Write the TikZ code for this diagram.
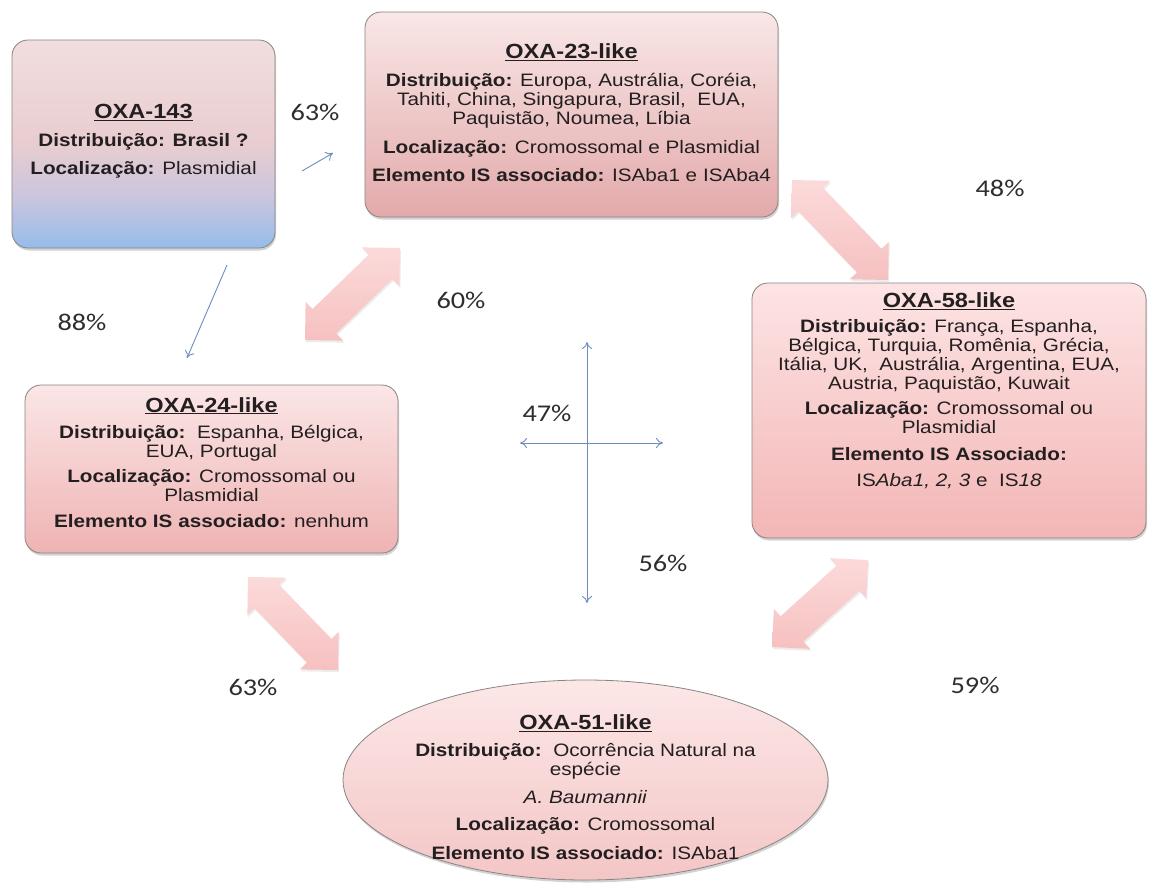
\documentclass[tikz,border=0pt]{standalone}
\usepackage{fontspec}
\setmainfont{Liberation Sans}[FakeStretch=1.15]
\newfontfamily\pctfont{Carlito}[FakeStretch=1.18]
\usetikzlibrary{arrows.meta,calc,shadows,shapes.geometric}
\definecolor{boxborder}{HTML}{8A8383}
\definecolor{txt}{HTML}{231F20}
\definecolor{pcttxt}{HTML}{2E2E2E}
\definecolor{arrowblue}{HTML}{6E8DBD}
\definecolor{fatpink}{HTML}{F6C0C0}
\definecolor{fatlight}{HTML}{FCDADA}
\definecolor{p23top}{HTML}{F9E7E7}
\definecolor{p23bot}{HTML}{E3A9AA}
\definecolor{p58top}{HTML}{FDE4E4}
\definecolor{p58bot}{HTML}{F3B6B6}
\definecolor{p24top}{HTML}{FBE6E6}
\definecolor{p24bot}{HTML}{EFB3B3}
\definecolor{p51top}{HTML}{FCE7E7}
\definecolor{p51bot}{HTML}{F4C6C6}
\definecolor{p143top}{HTML}{F2DEDE}
\definecolor{p143mid}{HTML}{E8CDD0}
\definecolor{p143lav}{HTML}{C9C5DE}
\definecolor{p143bot}{HTML}{95BCEA}
\pgfdeclareverticalshading{shade143}{100bp}{color(0bp)=(p143bot); color(25bp)=(p143bot);
  color(37bp)=(p143lav); color(50bp)=(p143mid); color(75bp)=(p143top); color(100bp)=(p143top)}
\newcommand\fatdbl[4]{%
  \coordinate (#1#2p) at ($(#1)!#3!(#2)$);
  \coordinate (#1#2q) at ($(#2)!#3!(#1)$);
  \path[fatarr] (#1)
   -- ($(#1#2p)!#3!90:(#2)$) -- ($(#1#2p)!#4!90:(#2)$)
   -- ($(#1#2q)!#4!-90:(#1)$) -- ($(#1#2q)!#3!-90:(#1)$)
   -- (#2)
   -- ($(#1#2q)!#3!90:(#1)$) -- ($(#1#2q)!#4!90:(#1)$)
   -- ($(#1#2p)!#4!-90:(#2)$) -- ($(#1#2p)!#3!-90:(#2)$) -- cycle;}
\tikzset{
  box/.style={draw=boxborder, line width=0.8pt, rounded corners=16pt, inner sep=0pt,
    drop shadow={opacity=0.35, shadow xshift=1pt, shadow yshift=-2.5pt}},
  txtblock/.style={align=center, inner sep=0pt, text=txt, font=\fontsize{18}{19}\selectfont},
  pct/.style={text=pcttxt, inner sep=0pt, font=\pctfont\fontsize{24}{26}\selectfont},
  thinarr/.style={draw=arrowblue, line width=0.9pt, -{To[length=7pt,width=10pt]}},
  thindbl/.style={draw=arrowblue, line width=0.9pt, {To[length=7pt,width=10pt]}-{To[length=7pt,width=10pt]}},
  fatarr/.style={top color=fatlight, bottom color=fatpink,
    drop shadow={opacity=0.15, shadow xshift=1pt, shadow yshift=-2pt}},
}
\newcommand\ttl[1]{{\fontsize{20.5}{22}\selectfont\bfseries\underline{#1}}}
\begin{document}
\begin{tikzpicture}[x=1pt,y=-1pt]
\useasboundingbox (0,0) rectangle (1151,884);
\fill[white] (0,0) rectangle (1151,884);

% fat arrows
\coordinate (f1a) at (305,340); \coordinate (f1b) at (400,248);
\coordinate (f2a) at (792,180); \coordinate (f2b) at (888,280);
\coordinate (f3a) at (868,560); \coordinate (f3b) at (772,647);
\coordinate (f4a) at (248,577); \coordinate (f4b) at (338,670);
\fatdbl{f1a}{f1b}{27pt}{17pt}
\fatdbl{f2a}{f2b}{27pt}{17pt}
\fatdbl{f3a}{f3b}{27pt}{17pt}
\fatdbl{f4a}{f4b}{27pt}{17pt}

% boxes
\node[box, shading=shade143,
  minimum width=263pt, minimum height=208pt] (b143) at (143.5,144) {};
\node[box, top color=p23top, bottom color=p23bot,
  minimum width=413pt, minimum height=205pt] (b23) at (571.5,114.5) {};
\node[box, top color=p58top, bottom color=p58bot,
  minimum width=394pt, minimum height=255pt] (b58) at (949,410.5) {};
\node[box, top color=p24top, bottom color=p24bot,
  minimum width=373pt, minimum height=168pt] (b24) at (211.5,469) {};
\node[ellipse, draw=boxborder, line width=0.8pt, top color=p51top, bottom color=p51bot,
  drop shadow={opacity=0.35, shadow xshift=1pt, shadow yshift=-2.5pt},
  minimum width=485pt, minimum height=200pt, inner sep=0pt] (b51) at (585.5,780) {};

% texts
\node[txtblock] (t143) at (143.5,141) {\ttl{OXA-143}\\[8.5pt]
  \textbf{Distribuição: Brasil ?}\\[9pt]
  \textbf{Localização:} Plasmidial};
\node[txtblock] (t23) at (571.5,113) {\ttl{OXA-23-like}\\[8.5pt]
  \textbf{Distribuição:} Europa, Austrália, Coréia,\\
  Tahiti, China, Singapura, Brasil,\ \ EUA,\\
  Paquistão, Noumea, Líbia\\[10pt]
  \textbf{Localização:} Cromossomal e Plasmidial\\[9.5pt]
  \textbf{Elemento IS associado:} ISAba1 e ISAba4};
\node[txtblock] (t58) at (949,391) {\ttl{OXA-58-like}\\[5.5pt]
  \textbf{Distribuição:} França, Espanha,\\
  Bélgica, Turquia, Romênia, Grécia,\\
  Itália, UK,\ \ Austrália, Argentina, EUA,\\
  Austria, Paquistão, Kuwait\\[6.5pt]
  \textbf{Localização:} Cromossomal ou\\
  Plasmidial\\[7.5pt]
  \textbf{Elemento IS Associado:}\\[7.5pt]
  IS\textit{Aba1, 2, 3} e\ \ IS\textit{18}};
\node[txtblock] (t24) at (211.5,462.5) {\ttl{OXA-24-like}\\[7.5pt]
  \textbf{Distribuição:}\ \ Espanha, Bélgica,\\
  EUA, Portugal\\[5.5pt]
  \textbf{Localização:} Cromossomal ou\\
  Plasmidial\\[7.5pt]
  \textbf{Elemento IS associado:} nenhum};
\node[txtblock] (t51) at (585.5,787) {\ttl{OXA-51-like}\\[8.5pt]
  \textbf{Distribuição:}\ \ Ocorrência Natural na\\
  espécie\\[8.5pt]
  \textit{A. Baumannii}\\[8.5pt]
  \textbf{Localização:} Cromossomal\\[9.5pt]
  \textbf{Elemento IS associado:} ISAba1};

% thin arrows
\coordinate (a1s) at (302,171); \coordinate (a1e) at (333,153);
\draw[thinarr] (a1s) -- (a1e);
\coordinate (a2s) at (227,265); \coordinate (a2e) at (187,358);
\draw[thinarr] (a2s) -- (a2e);
\coordinate (v1) at (587,342); \coordinate (v2) at (587,603);
\draw[thindbl] (v1) -- (v2);
\coordinate (h1) at (520,443); \coordinate (h2) at (663,443);
\draw[thindbl] (h1) -- (h2);

% percentages
\node[pct] (p63a) at (315,112) {63\%};
\node[pct] (p48) at (1000,188) {48\%};
\node[pct] (p60) at (461,300) {60\%};
\node[pct] (p88) at (82,322) {88\%};
\node[pct] (p47) at (547,413) {47\%};
\node[pct] (p56) at (663,563) {56\%};
\node[pct] (p63b) at (253,687) {63\%};
\node[pct] (p59) at (975,685) {59\%};
\end{tikzpicture}
\end{document}
